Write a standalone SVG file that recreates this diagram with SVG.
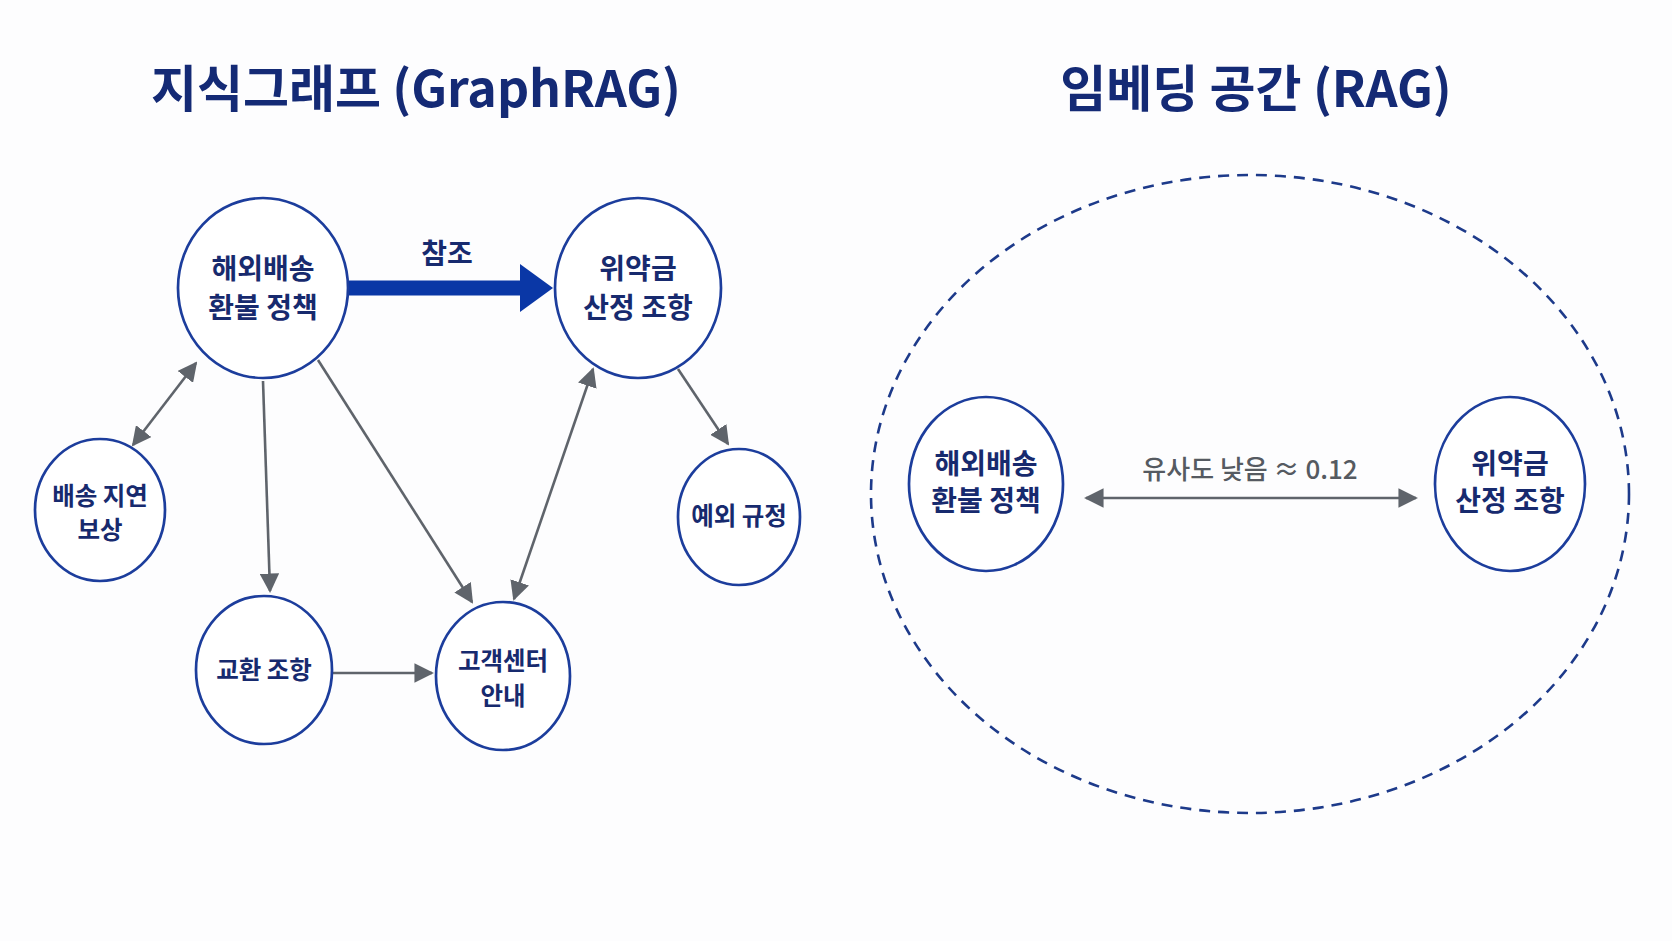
<svg xmlns="http://www.w3.org/2000/svg" width="1672" height="941" viewBox="0 0 1672 941">
<defs>
<style>
.node{fill:#ffffff;stroke:#1c3d9c;stroke-width:2.7}
.t{font-family:"Noto Sans CJK KR","Noto Sans",sans-serif;font-weight:700;fill:#172a6e;text-anchor:middle}
.title{font-size:50px;fill:#142a75}
.big{font-size:28px}
.small{font-size:24.5px}
.edge{stroke:#5f646b;stroke-width:2.6;fill:none}
.lbl{font-family:"Noto Sans CJK KR","Noto Sans",sans-serif;font-weight:500;fill:#555a61;text-anchor:middle;font-size:26px}
</style>
<marker id="ah2" viewBox="0 0 10 10" refX="9" refY="5" markerWidth="7.5" markerHeight="7.5" orient="auto-start-reverse">
<path d="M0,0 L10,5 L0,10 z" fill="#5f646b"/>
</marker>
</defs>
<rect width="1672" height="941" fill="#fdfdfe"/>

<text class="t title" x="416" y="107">지식그래프 (GraphRAG)</text>
<text class="t title" x="1256" y="107">임베딩 공간 (RAG)</text>

<g id="connectors">
<path d="M349,288 H522" stroke="#0a37a6" stroke-width="15" fill="none"/>
<path d="M520,264 L553,288 L520,312 z" fill="#0a37a6"/>
<text class="t" x="447" y="264" style="font-size:28px">참조</text>
<line class="edge" x1="196" y1="363" x2="133" y2="445" marker-start="url(#ah2)" marker-end="url(#ah2)"/>
<line class="edge" x1="263" y1="381" x2="270" y2="591" marker-end="url(#ah2)"/>
<line class="edge" x1="318" y1="360" x2="472" y2="602" marker-end="url(#ah2)"/>
<line class="edge" x1="593" y1="369" x2="514" y2="599" marker-start="url(#ah2)" marker-end="url(#ah2)"/>
<line class="edge" x1="678" y1="369" x2="728" y2="444" marker-end="url(#ah2)"/>
<line class="edge" x1="333" y1="673" x2="432" y2="673" marker-end="url(#ah2)"/>
<line class="edge" x1="1086" y1="498" x2="1416" y2="498" marker-start="url(#ah2)" marker-end="url(#ah2)"/>
<text class="lbl" x="1250" y="479">유사도 낮음 ≈ 0.12</text>
</g>

<g id="embedding-space">
<ellipse cx="1250" cy="494" rx="379" ry="319" fill="none" stroke="#1d3a8a" stroke-width="2.6" stroke-dasharray="11 8"/>
</g>

<g id="node-overseas">
<ellipse class="node" cx="263" cy="288" rx="85" ry="90"/>
<text class="t big" x="263" y="279">해외배송</text>
<text class="t big" x="263" y="318">환불 정책</text>
</g>
<g id="node-penalty">
<ellipse class="node" cx="638" cy="288" rx="83" ry="90"/>
<text class="t big" x="638" y="279">위약금</text>
<text class="t big" x="638" y="318">산정 조항</text>
</g>
<g id="node-delay">
<ellipse class="node" cx="100" cy="510" rx="65" ry="71"/>
<text class="t small" x="100" y="505">배송 지연</text>
<text class="t small" x="100" y="539">보상</text>
</g>
<g id="node-exception">
<ellipse class="node" cx="739" cy="517" rx="61" ry="68"/>
<text class="t small" x="739" y="525">예외 규정</text>
</g>
<g id="node-exchange">
<ellipse class="node" cx="264" cy="670" rx="68" ry="74"/>
<text class="t small" x="264" y="679">교환 조항</text>
</g>
<g id="node-cs">
<ellipse class="node" cx="503" cy="676" rx="67" ry="74"/>
<text class="t small" x="503" y="670">고객센터</text>
<text class="t small" x="503" y="705">안내</text>
</g>
<g id="node-rag-overseas">
<ellipse class="node" cx="986" cy="484" rx="77" ry="87"/>
<text class="t big" x="986" y="474">해외배송</text>
<text class="t big" x="986" y="511">환불 정책</text>
</g>
<g id="node-rag-penalty">
<ellipse class="node" cx="1510" cy="484" rx="75" ry="87"/>
<text class="t big" x="1510" y="474">위약금</text>
<text class="t big" x="1510" y="511">산정 조항</text>
</g>
</svg>
